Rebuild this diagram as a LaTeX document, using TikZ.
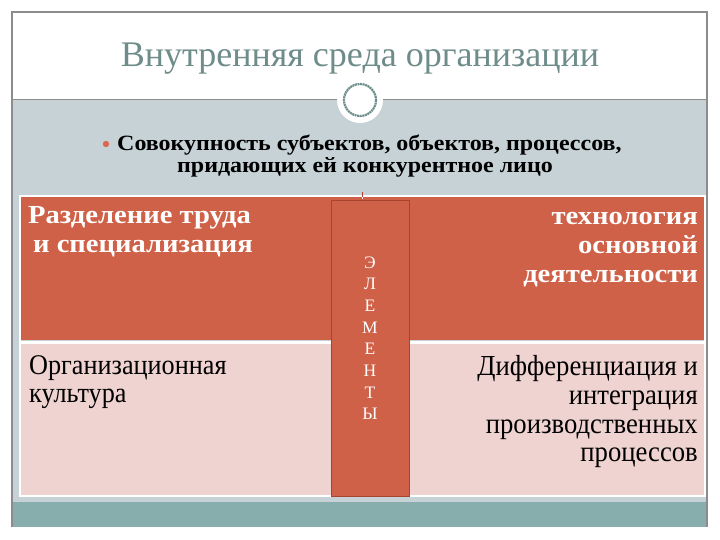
\documentclass[tikz,border=0pt]{standalone}
\usepackage{fontspec}
\setmainfont{Liberation Serif}
\newfontfamily\wideb[FakeStretch=1.1]{Liberation Serif}
\newfontfamily\narr[FakeStretch=0.92]{Liberation Serif}
\definecolor{frameg}{HTML}{8C8C8C}
\definecolor{titlec}{HTML}{6E8C8A}
\definecolor{bandbg}{HTML}{C6D2D6}
\definecolor{tealb}{HTML}{87AEAC}
\definecolor{rust}{HTML}{CF6148}
\definecolor{rustd}{HTML}{A8442E}
\definecolor{pinkc}{HTML}{EFD3D0}
\definecolor{ringc}{HTML}{6E8F8C}
\definecolor{bulc}{HTML}{D9694F}
\tikzset{
  x=1pt,y=-1pt,
  ttl/.style={font=\fontsize{36}{40}\selectfont, text=titlec, inner sep=0pt},
  bul/.style={font=\wideb\bfseries\fontsize{21.8}{22}\selectfont, text=black, inner sep=0pt},
  topl/.style={font=\wideb\bfseries\fontsize{26}{29}\selectfont, text=white, anchor=base west, inner sep=0pt},
  topr/.style={font=\wideb\bfseries\fontsize{26}{29}\selectfont, text=white, anchor=base east, inner sep=0pt},
  botl/.style={font=\narr\fontsize{28.5}{29}\selectfont, text=black, anchor=base west, inner sep=0pt},
  botr/.style={font=\narr\fontsize{29}{29}\selectfont, text=black, anchor=base east, inner sep=0pt},
  vlet/.style={font=\fontsize{17.5}{20}\selectfont, text=white, anchor=base, inner sep=0pt}
}
\begin{document}
\begin{tikzpicture}
\useasboundingbox (0,0) rectangle (720,540);
\fill[white] (0,0) rectangle (720,540);
% band backgrounds
\fill[bandbg] (12,100) rectangle (707,502);
\fill[tealb] (12,502) rectangle (707,527);
% outer frame
\draw[frameg, line width=1.2pt] (12,527) -- (12,12) -- (707,12) -- (707,527);
\draw[frameg, line width=1pt] (12,100) -- (707,100);
% title
\node[ttl, anchor=base] (title) at (360,67) {Внутренняя среда организации};
% circle ornament
\fill[white] (360,100) circle (23);
\draw[ringc, line width=2.2pt, dash pattern=on 2pt off 0.6pt] (360,100) circle (16);
% bullet text
\fill[bulc] (106,144) circle (3.2);
\node[bul, anchor=base west] (l1) at (117,151) {Совокупность субъектов, объектов, процессов,};
\node[bul, anchor=base] (l2) at (365,173) {придающих ей конкурентное лицо};
% table
\fill[rust] (20,196) rectangle (705,340);
\fill[pinkc] (20,344) rectangle (705,496);
\draw[white, line width=1.5pt] (20,196) rectangle (705,496);
\draw[white, line width=3pt] (20,342) -- (705,342);
\draw[white, line width=0.8pt] (362,192) -- (362,199);
\draw[rustd, line width=0.6pt] (362,192) -- (362,197);
% middle box
\node[draw=rustd, fill=rust, line width=0.8pt, minimum width=78pt, minimum height=296pt, inner sep=0pt, anchor=north west] (mid) at (331,200) {};
\foreach \t [count=\i from 0] in {Э,Л,Е,М,Е,Н,Т,Ы}
  \node[vlet] (v\i) at (370,{268+21.7*\i}) {\t};
% cells
\node[topl] (c1a) at (28,223) {Разделение труда};
\node[topl] (c1b) at (33,252) {и специализация};
\node[topr] (c2a) at (698,225) {технология};
\node[topr] (c2b) at (698,254) {основной};
\node[topr] (c2c) at (698,282) {деятельности};
\node[botl] (c3a) at (29,374) {Организационная};
\node[botl] (c3b) at (29,402) {культура};
\node[botr] (c4a) at (698,375) {Дифференциация и};
\node[botr] (c4b) at (698,404) {интеграция};
\node[botr] (c4c) at (698,433) {производственных};
\node[botr] (c4d) at (698,461) {процессов};
\end{tikzpicture}
\end{document}
